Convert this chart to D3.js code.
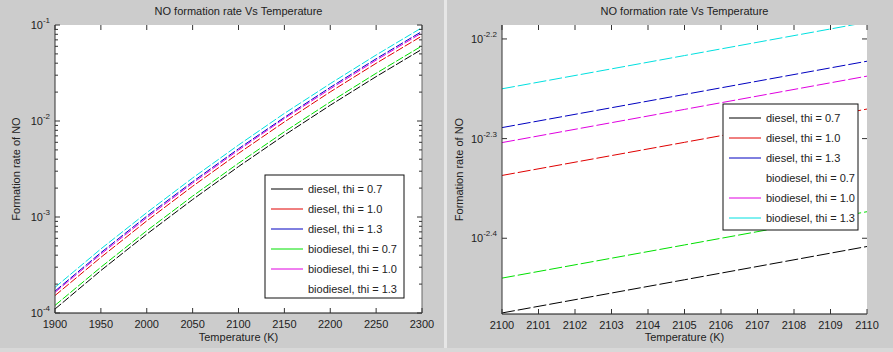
<!DOCTYPE html>
<html>
<head>
<meta charset="utf-8">
<script src="https://cdn.jsdelivr.net/npm/d3@7"></script>
<style>
  body { margin: 0; background: #cccccc; }
  svg { display: block; }
  text { font-family: "Liberation Sans", Arial, sans-serif; fill: #222; }
</style>
</head>
<body>
<div id="chart"></div>
<script>
// series labels and colours (MATLAB order)
var seriesNames = ["diesel, thi = 0.7", "diesel, thi = 1.0", "diesel, thi = 1.3",
    "biodiesel, thi = 0.7", "biodiesel, thi = 1.0", "biodiesel, thi = 1.3"];
var seriesColors = ["#000000", "#e00000", "#0000c0", "#00e000", "#e000e0", "#00e0e0"];

// left panel: full range 1900-2300 K
var tempFull = [1900, 1950, 2000, 2050, 2100, 2150, 2200, 2250, 2300];
var dieselPhi07 = [1.10e-4, 2.77e-4, 6.63e-4, 1.52e-3, 3.35e-3, 7.12e-3, 1.46e-2, 2.90e-2, 5.59e-2];
var dieselPhi10 = [1.52e-4, 3.80e-4, 9.11e-4, 2.09e-3, 4.60e-3, 9.78e-3, 2.01e-2, 3.99e-2, 7.69e-2];
var dieselPhi13 = [1.69e-4, 4.25e-4, 1.02e-3, 2.33e-3, 5.14e-3, 1.09e-2, 2.24e-2, 4.45e-2, 8.58e-2];
var biodieselPhi07 = [1.20e-4, 3.00e-4, 7.19e-4, 1.65e-3, 3.63e-3, 7.72e-3, 1.58e-2, 3.14e-2, 6.06e-2];
var biodieselPhi10 = [1.64e-4, 4.10e-4, 9.82e-4, 2.25e-3, 4.97e-3, 1.06e-2, 2.16e-2, 4.30e-2, 8.29e-2];
var biodieselPhi13 = [1.85e-4, 4.65e-4, 1.11e-3, 2.55e-3, 5.62e-3, 1.20e-2, 2.45e-2, 4.87e-2, 9.39e-2];

// right panel: zoom 2100-2110 K
var tempZoom = [2100, 2105, 2110];
var zDieselPhi07 = [3.350e-3, 3.617e-3, 3.906e-3];
var zDieselPhi10 = [4.603e-3, 4.969e-3, 5.366e-3];
var zDieselPhi13 = [5.141e-3, 5.550e-3, 5.993e-3];
var zBiodieselPhi07 = [3.631e-3, 3.920e-3, 4.233e-3];
var zBiodieselPhi10 = [4.966e-3, 5.362e-3, 5.790e-3];
var zBiodieselPhi13 = [5.623e-3, 6.072e-3, 6.557e-3];

var xTicksFull = [1900, 1950, 2000, 2050, 2100, 2150, 2200, 2250, 2300];
var xTicksZoom = [2100, 2101, 2102, 2103, 2104, 2105, 2106, 2107, 2108, 2109, 2110];
var yExpFull = [-4, -3, -2, -1];
var yExpZoom = [-2.4, -2.3, -2.2];

var width = 893, height = 352;
var svg = d3.select("#chart").append("svg")
    .attr("width", width).attr("height", height);

svg.append("rect").attr("width", width).attr("height", height).attr("fill", "#cccccc");
// window separator
svg.append("rect").attr("x", 444).attr("y", 0).attr("width", 3).attr("height", height).attr("fill", "#e6e6e6");
svg.append("rect").attr("x", 0).attr("y", 348).attr("width", width).attr("height", 4).attr("fill", "#d8d8d8");

function drawPanel(opt) {
    var g = svg.append("g");
    var x = d3.scaleLinear().domain(opt.xDomain).range([opt.left, opt.right]);
    var y = d3.scaleLog().domain(opt.yDomain).range([opt.bottom, opt.top]);

    g.append("rect")
        .attr("x", opt.left).attr("y", opt.top)
        .attr("width", opt.right - opt.left).attr("height", opt.bottom - opt.top)
        .attr("fill", "#ffffff");

    // clip for lines
    var clipId = "clip" + opt.id;
    svg.append("clipPath").attr("id", clipId).append("rect")
        .attr("x", opt.left).attr("y", opt.top)
        .attr("width", opt.right - opt.left).attr("height", opt.bottom - opt.top);

    var line = d3.line().x(d => x(d[0])).y(d => y(d[1]));
    opt.series.forEach(function (vals, i) {
        g.append("path")
            .datum(opt.temps.map((t, k) => [t, vals[k]]))
            .attr("clip-path", "url(#" + clipId + ")")
            .attr("fill", "none")
            .attr("stroke", seriesColors[i])
            .attr("stroke-width", 1)
            .attr("stroke-dasharray", opt.dash)
            .attr("d", line);
    });

    // axes lines
    g.append("line").attr("x1", opt.left).attr("x2", opt.left)
        .attr("y1", opt.top).attr("y2", opt.bottom).attr("stroke", "#333");
    g.append("line").attr("x1", opt.left).attr("x2", opt.right)
        .attr("y1", opt.bottom).attr("y2", opt.bottom).attr("stroke", "#111");
    if (opt.rightLine) {
        g.append("line").attr("x1", opt.right).attr("x2", opt.right)
            .attr("y1", opt.top).attr("y2", opt.bottom).attr("stroke", "#666");
    }

    // x ticks (inward, top and bottom)
    opt.xTicks.forEach(function (t) {
        var px = x(t);
        g.append("line").attr("x1", px).attr("x2", px)
            .attr("y1", opt.bottom).attr("y2", opt.bottom - 5).attr("stroke", "#333");
        g.append("line").attr("x1", px).attr("x2", px)
            .attr("y1", opt.top).attr("y2", opt.top + 5).attr("stroke", "#333");
        g.append("text").attr("x", px).attr("y", opt.bottom + 15)
            .attr("text-anchor", "middle").style("font-size", "11px")
            .text(t);
    });

    // y major ticks and labels
    opt.yExps.forEach(function (e) {
        var py = y(Math.pow(10, e));
        g.append("line").attr("x1", opt.left).attr("x2", opt.left + 5)
            .attr("y1", py).attr("y2", py).attr("stroke", "#333");
        g.append("line").attr("x1", opt.right).attr("x2", opt.right - 5)
            .attr("y1", py).attr("y2", py).attr("stroke", "#333");
        var t = g.append("text").attr("x", opt.left - 5).attr("y", py + 4)
            .attr("text-anchor", "end").style("font-size", "11px");
        t.append("tspan").text("10");
        t.append("tspan").attr("dy", -6).style("font-size", "8px").text(String(e).replace("-", "-"));
    });

    // y minor ticks (left panel only)
    if (opt.minor) {
        yExpFull.slice(0, -1).forEach(function (e) {
            for (var m = 2; m <= 9; m++) {
                var py = y(m * Math.pow(10, e));
                g.append("line").attr("x1", opt.left).attr("x2", opt.left + 3)
                    .attr("y1", py).attr("y2", py).attr("stroke", "#333");
                g.append("line").attr("x1", opt.right).attr("x2", opt.right - 3)
                    .attr("y1", py).attr("y2", py).attr("stroke", "#333");
            }
        });
    }

    // title and axis labels
    var cx = (opt.left + opt.right) / 2;
    g.append("text").attr("x", cx).attr("y", 15).attr("text-anchor", "middle")
        .style("font-size", "11px").text("NO formation rate Vs Temperature");
    g.append("text").attr("x", cx).attr("y", 341).attr("text-anchor", "middle")
        .style("font-size", "11px").text("Temperature (K)");
    g.append("text")
        .attr("transform", "translate(" + opt.yLabelX + "," + ((opt.top + opt.bottom) / 2) + ") rotate(-90)")
        .attr("text-anchor", "middle").style("font-size", "11px")
        .text("Formation rate of NO");

    // legend
    var L = opt.legend;
    g.append("rect").attr("x", L.x).attr("y", L.y).attr("width", L.w).attr("height", L.h)
        .attr("fill", "#ffffff").attr("stroke", "#111").attr("stroke-width", 1);
    seriesNames.forEach(function (name, i) {
        var py = L.y + 14 + i * 20;
        if (i !== L.skip) {
            g.append("line").attr("x1", L.x + 6).attr("x2", L.x + 38)
                .attr("y1", py).attr("y2", py).attr("stroke", seriesColors[i]);
        }
        g.append("text").attr("x", L.x + 43).attr("y", py + 4)
            .style("font-size", "11px").text(name);
    });
}

drawPanel({
    id: "L", left: 55, right: 422, top: 25, bottom: 313,
    xDomain: [1900, 2300], yDomain: [1e-4, 1e-1],
    temps: tempFull,
    series: [dieselPhi07, dieselPhi10, dieselPhi13, biodieselPhi07, biodieselPhi10, biodieselPhi13],
    xTicks: xTicksFull, yExps: yExpFull, minor: true, rightLine: true,
    dash: "8,2", yLabelX: 20,
    legend: { x: 265, y: 175, w: 139, h: 123, skip: 5 }
});

drawPanel({
    id: "R", left: 502, right: 867, top: 25, bottom: 314,
    xDomain: [2100, 2110], yDomain: [Math.pow(10, -2.476), Math.pow(10, -2.186)],
    temps: tempZoom,
    series: [zDieselPhi07, zDieselPhi10, zDieselPhi13, zBiodieselPhi07, zBiodieselPhi10, zBiodieselPhi13],
    xTicks: xTicksZoom, yExps: yExpZoom, minor: false, rightLine: false,
    dash: "13,3", yLabelX: 463,
    legend: { x: 723, y: 104, w: 135, h: 126, skip: 3 }
});
</script>
</body>
</html>
